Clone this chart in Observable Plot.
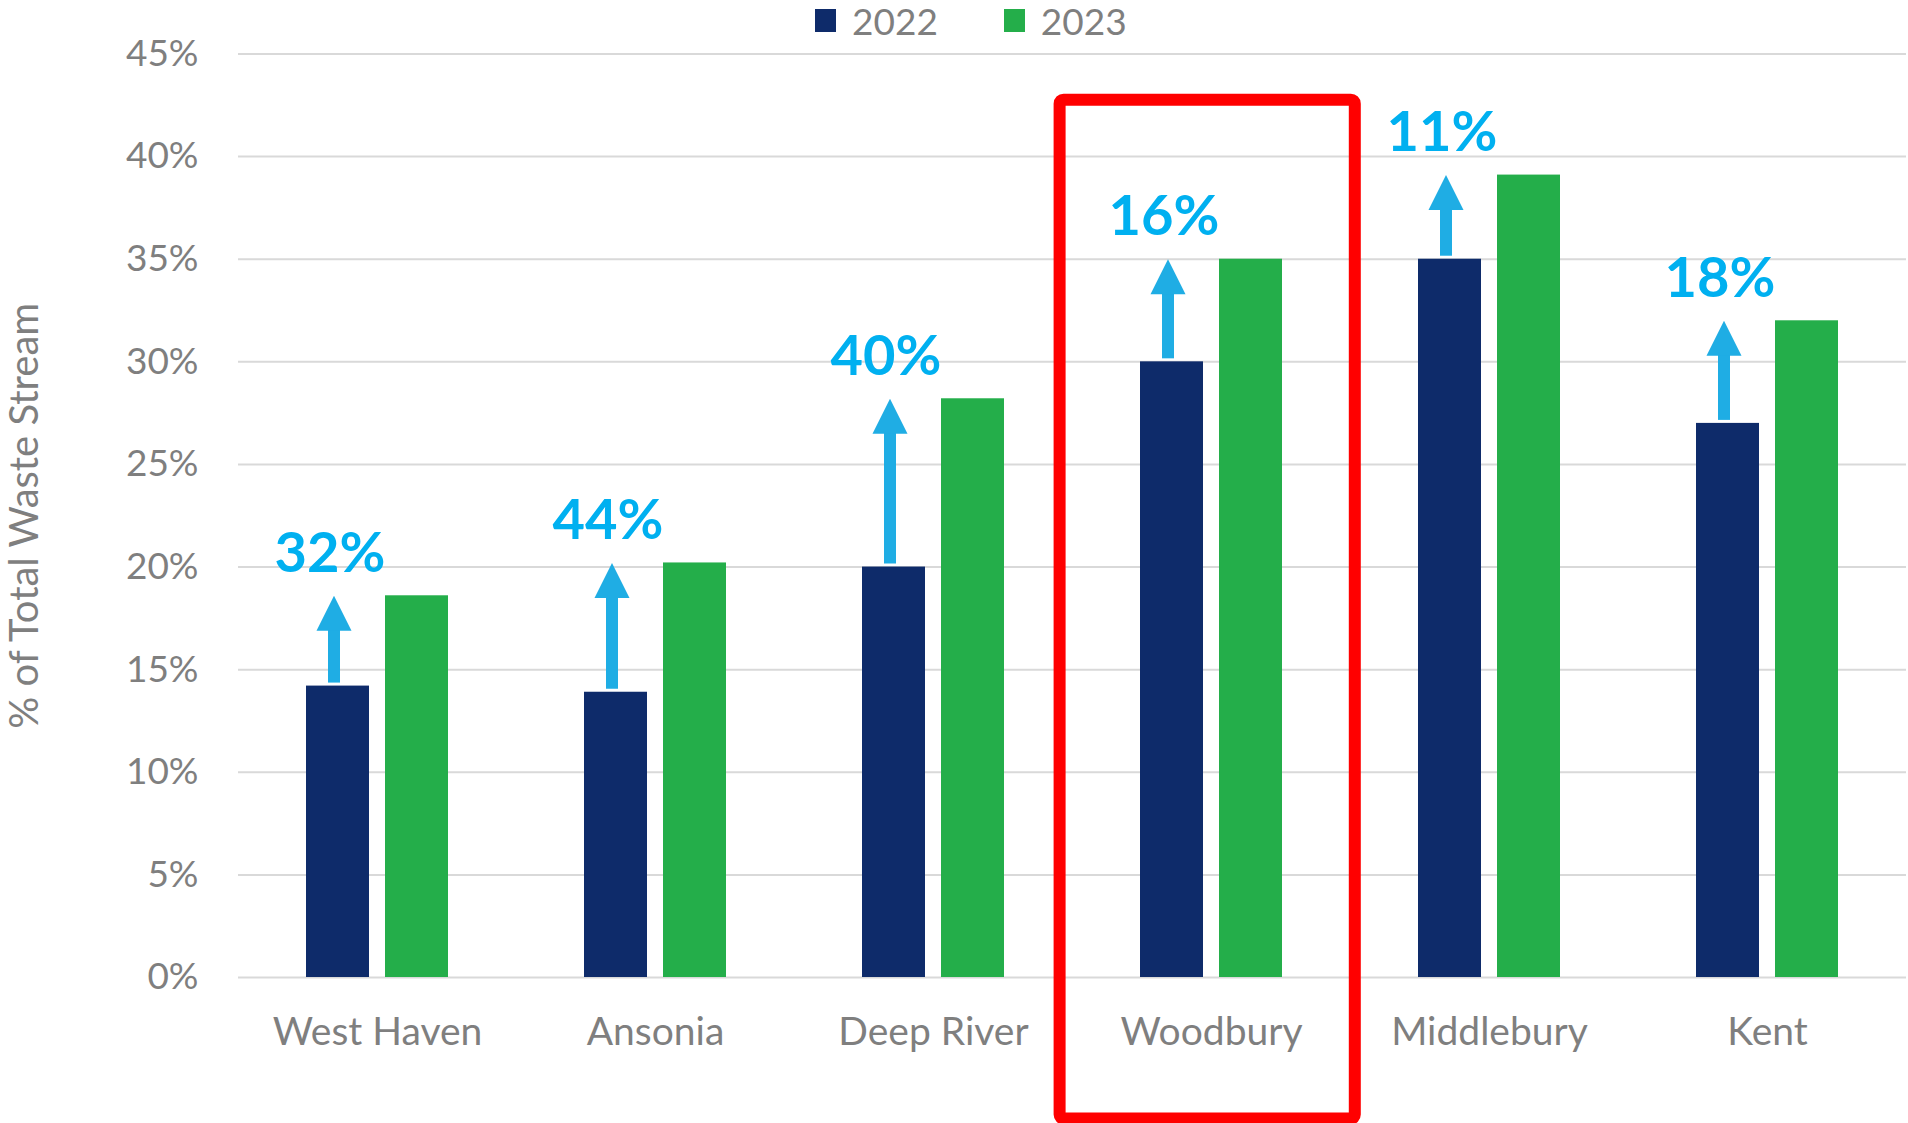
<!DOCTYPE html>
<html>
<head>
<meta charset="utf-8">
<script src="https://cdn.jsdelivr.net/npm/d3@7"></script>
<script src="https://cdn.jsdelivr.net/npm/@observablehq/plot@0.6"></script>
<style>
  html, body { margin: 0; padding: 0; background: #ffffff; overflow: hidden; }
  #wrap { position: relative; width: 1908px; height: 1123px; font-family: Lato, "Open Sans", sans-serif; }
  #legend { position: absolute; top: 0; left: 815px; display: flex; align-items: center; height: 41px; }
  .item { display: flex; align-items: center; }
  .sw { width: 21px; height: 23px; margin-right: 16px; }
  .lab { font-size: 37px; line-height: 41px; color: #7f7f7f; }
</style>
</head>
<body>
<div id="wrap">
  <div id="chart"></div>
  <div id="legend"></div>
</div>
<script>
// ---- data ----
const towns = ["West Haven", "Ansonia", "Deep River", "Woodbury", "Middlebury", "Kent"];
const years = ["2022", "2023"];
const share2022 = [0.142, 0.139, 0.200, 0.300, 0.350, 0.270];
const share2023 = [0.186, 0.202, 0.282, 0.350, 0.391, 0.320];
const changeLabels = ["32%", "44%", "40%", "16%", "11%", "18%"];
const yTicks = [0, 0.05, 0.10, 0.15, 0.20, 0.25, 0.30, 0.35, 0.40, 0.45];
const yTitle = "% of Total Waste Stream";
const highlightTown = "Woodbury";
const highlightTop = 0.4275;
const highlightBottom = -0.069;

// ---- styles ----
const seriesColors = ["#0e2b6a", "#24ae4a"];
const arrowColor = "#1fade4";
const labelColor = "#00b0f0";
const textGray = "#7f7f7f";

// ---- tables built from the arrays ----
const bars = [];
towns.forEach((t, i) => {
  bars.push({town: t, year: years[0], value: share2022[i]});
  bars.push({town: t, year: years[1], value: share2023[i]});
});
const changes = towns.map((t, i) => ({town: t, from: share2022[i], to: share2023[i], label: changeLabels[i]}));
const highlight = [{town: highlightTown, top: highlightTop, bottom: highlightBottom}];

const arrowHead = {
  draw(context) {
    context.moveTo(0, 0);
    context.lineTo(17.5, 35);
    context.lineTo(-17.5, 35);
    context.closePath();
  }
};

const chart = Plot.plot({
  width: 1908,
  height: 1123,
  marginTop: 53.5,
  marginBottom: 146,
  marginLeft: 235,
  marginRight: 0,
  style: {fontFamily: "Lato, 'Open Sans', sans-serif", background: "#ffffff", overflow: "visible"},
  fx: {domain: towns, padding: 0, axis: null},
  x: {domain: years, paddingInner: 0.2, paddingOuter: 0.8427, axis: null},
  y: {domain: [0, 0.45], axis: null},
  color: {domain: years, range: seriesColors},
  marks: [
    Plot.gridY(yTicks, {stroke: "#d9d9d9", strokeOpacity: 1, strokeWidth: 2}),
    Plot.axisY({
      ticks: yTicks, tickFormat: d3.format(".0%"), tickSize: 0, tickPadding: 40,
      fontSize: 37, fill: textGray, label: null
    }),
    Plot.axisY({
      ticks: [], tickSize: 0, fontSize: 40, fill: textGray,
      label: yTitle, labelAnchor: "center", labelOffset: 229, labelArrow: "none"
    }),
    Plot.axisFx({anchor: "bottom", tickSize: 0, tickPadding: 40, fontSize: 39, fill: textGray, label: null}),
    Plot.barY(bars, {fx: "town", x: "year", y: "value", fill: "year"}),
    Plot.ruleX(changes, {fx: "town", x: () => years[0], y1: "to", y2: "from", stroke: arrowColor, strokeWidth: 12, insetTop: 30, insetBottom: 3, dx: -4}),
    Plot.dot(changes, {fx: "town", x: () => years[0], y: "to", symbol: arrowHead, fill: arrowColor, stroke: "none", r: 10, dx: -4}),
    Plot.text(changes, {fx: "town", x: () => years[0], y: "to", text: "label", dy: -42, dx: -8, fontSize: 56, fontWeight: "bold", fill: labelColor}),
    Plot.rect(highlight, {fx: "town", y1: "bottom", y2: "top", fill: "none", stroke: "#ff0000", strokeWidth: 12, rx: 4, insetLeft: -12.4, insetRight: -4.8})
  ]
});
document.getElementById("chart").appendChild(chart);

const legend = document.getElementById("legend");
years.forEach((y, i) => {
  const item = document.createElement("div");
  item.className = "item";
  if (i < years.length - 1) item.style.marginRight = "66px";
  const sw = document.createElement("div");
  sw.className = "sw";
  sw.style.background = seriesColors[i];
  const lab = document.createElement("span");
  lab.className = "lab";
  lab.textContent = y;
  item.appendChild(sw);
  item.appendChild(lab);
  legend.appendChild(item);
});
</script>
</body>
</html>
